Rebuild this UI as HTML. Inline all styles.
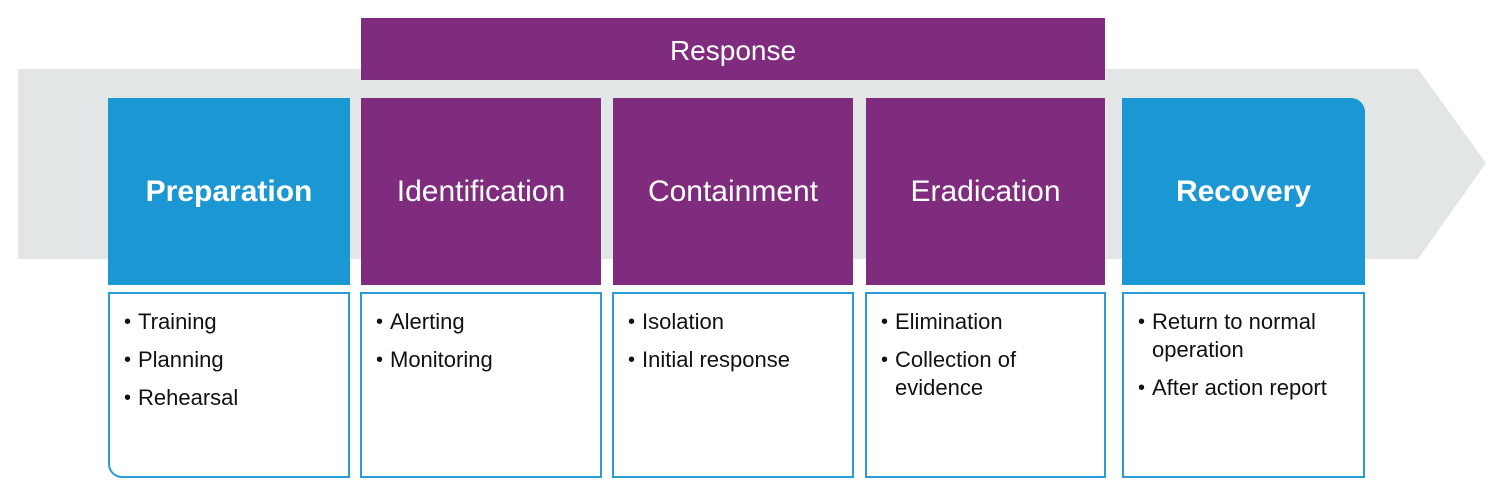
<!DOCTYPE html>
<html><head><style>
body{margin:0;width:1502px;height:498px;background:#fff;position:relative;overflow:hidden;font-family:"Liberation Sans",Arial,sans-serif}
.a{position:absolute}
.h{position:absolute;top:98px;height:187px;color:#fff;font-size:30px;display:flex;align-items:center;justify-content:center}
.blue{background:#1b97d3;font-weight:bold}
.pur{background:#7f2c7e}
.b{position:absolute;top:292px;height:186px;box-sizing:border-box;border:2px solid #2a9bd6;font-size:22px;color:#111;padding:14px 18px 0 14px}
.b div{position:relative;padding-left:14px;line-height:28px;margin-bottom:10px}
.b div:before{content:"•";position:absolute;left:0;font-size:20px}
</style></head><body>
<svg class="a" style="left:0;top:0" width="1502" height="498"><polygon points="18,69 1418,69 1486,163 1418,259 18,259" fill="#e3e6e7"/></svg>
<div class="a pur" style="left:361px;top:18px;width:744px;height:62px;color:#fff;font-size:28px;display:flex;align-items:center;justify-content:center;padding-top:4px;box-sizing:border-box">Response</div>
<div class="h blue" style="left:108px;width:242px">Preparation</div>
<div class="h pur" style="left:361px;width:240px">Identification</div>
<div class="h pur" style="left:613px;width:240px">Containment</div>
<div class="h pur" style="left:866px;width:239px">Eradication</div>
<div class="h blue" style="left:1122px;width:243px;border-top-right-radius:14px">Recovery</div>
<div class="b" style="left:108px;width:242px;border-bottom-left-radius:14px"><div>Training</div><div>Planning</div><div>Rehearsal</div></div>
<div class="b" style="left:360px;width:242px"><div>Alerting</div><div>Monitoring</div></div>
<div class="b" style="left:612px;width:242px"><div>Isolation</div><div>Initial response</div></div>
<div class="b" style="left:865px;width:241px"><div>Elimination</div><div>Collection of evidence</div></div>
<div class="b" style="left:1122px;width:243px"><div>Return to normal operation</div><div>After action report</div></div>
</body></html>
